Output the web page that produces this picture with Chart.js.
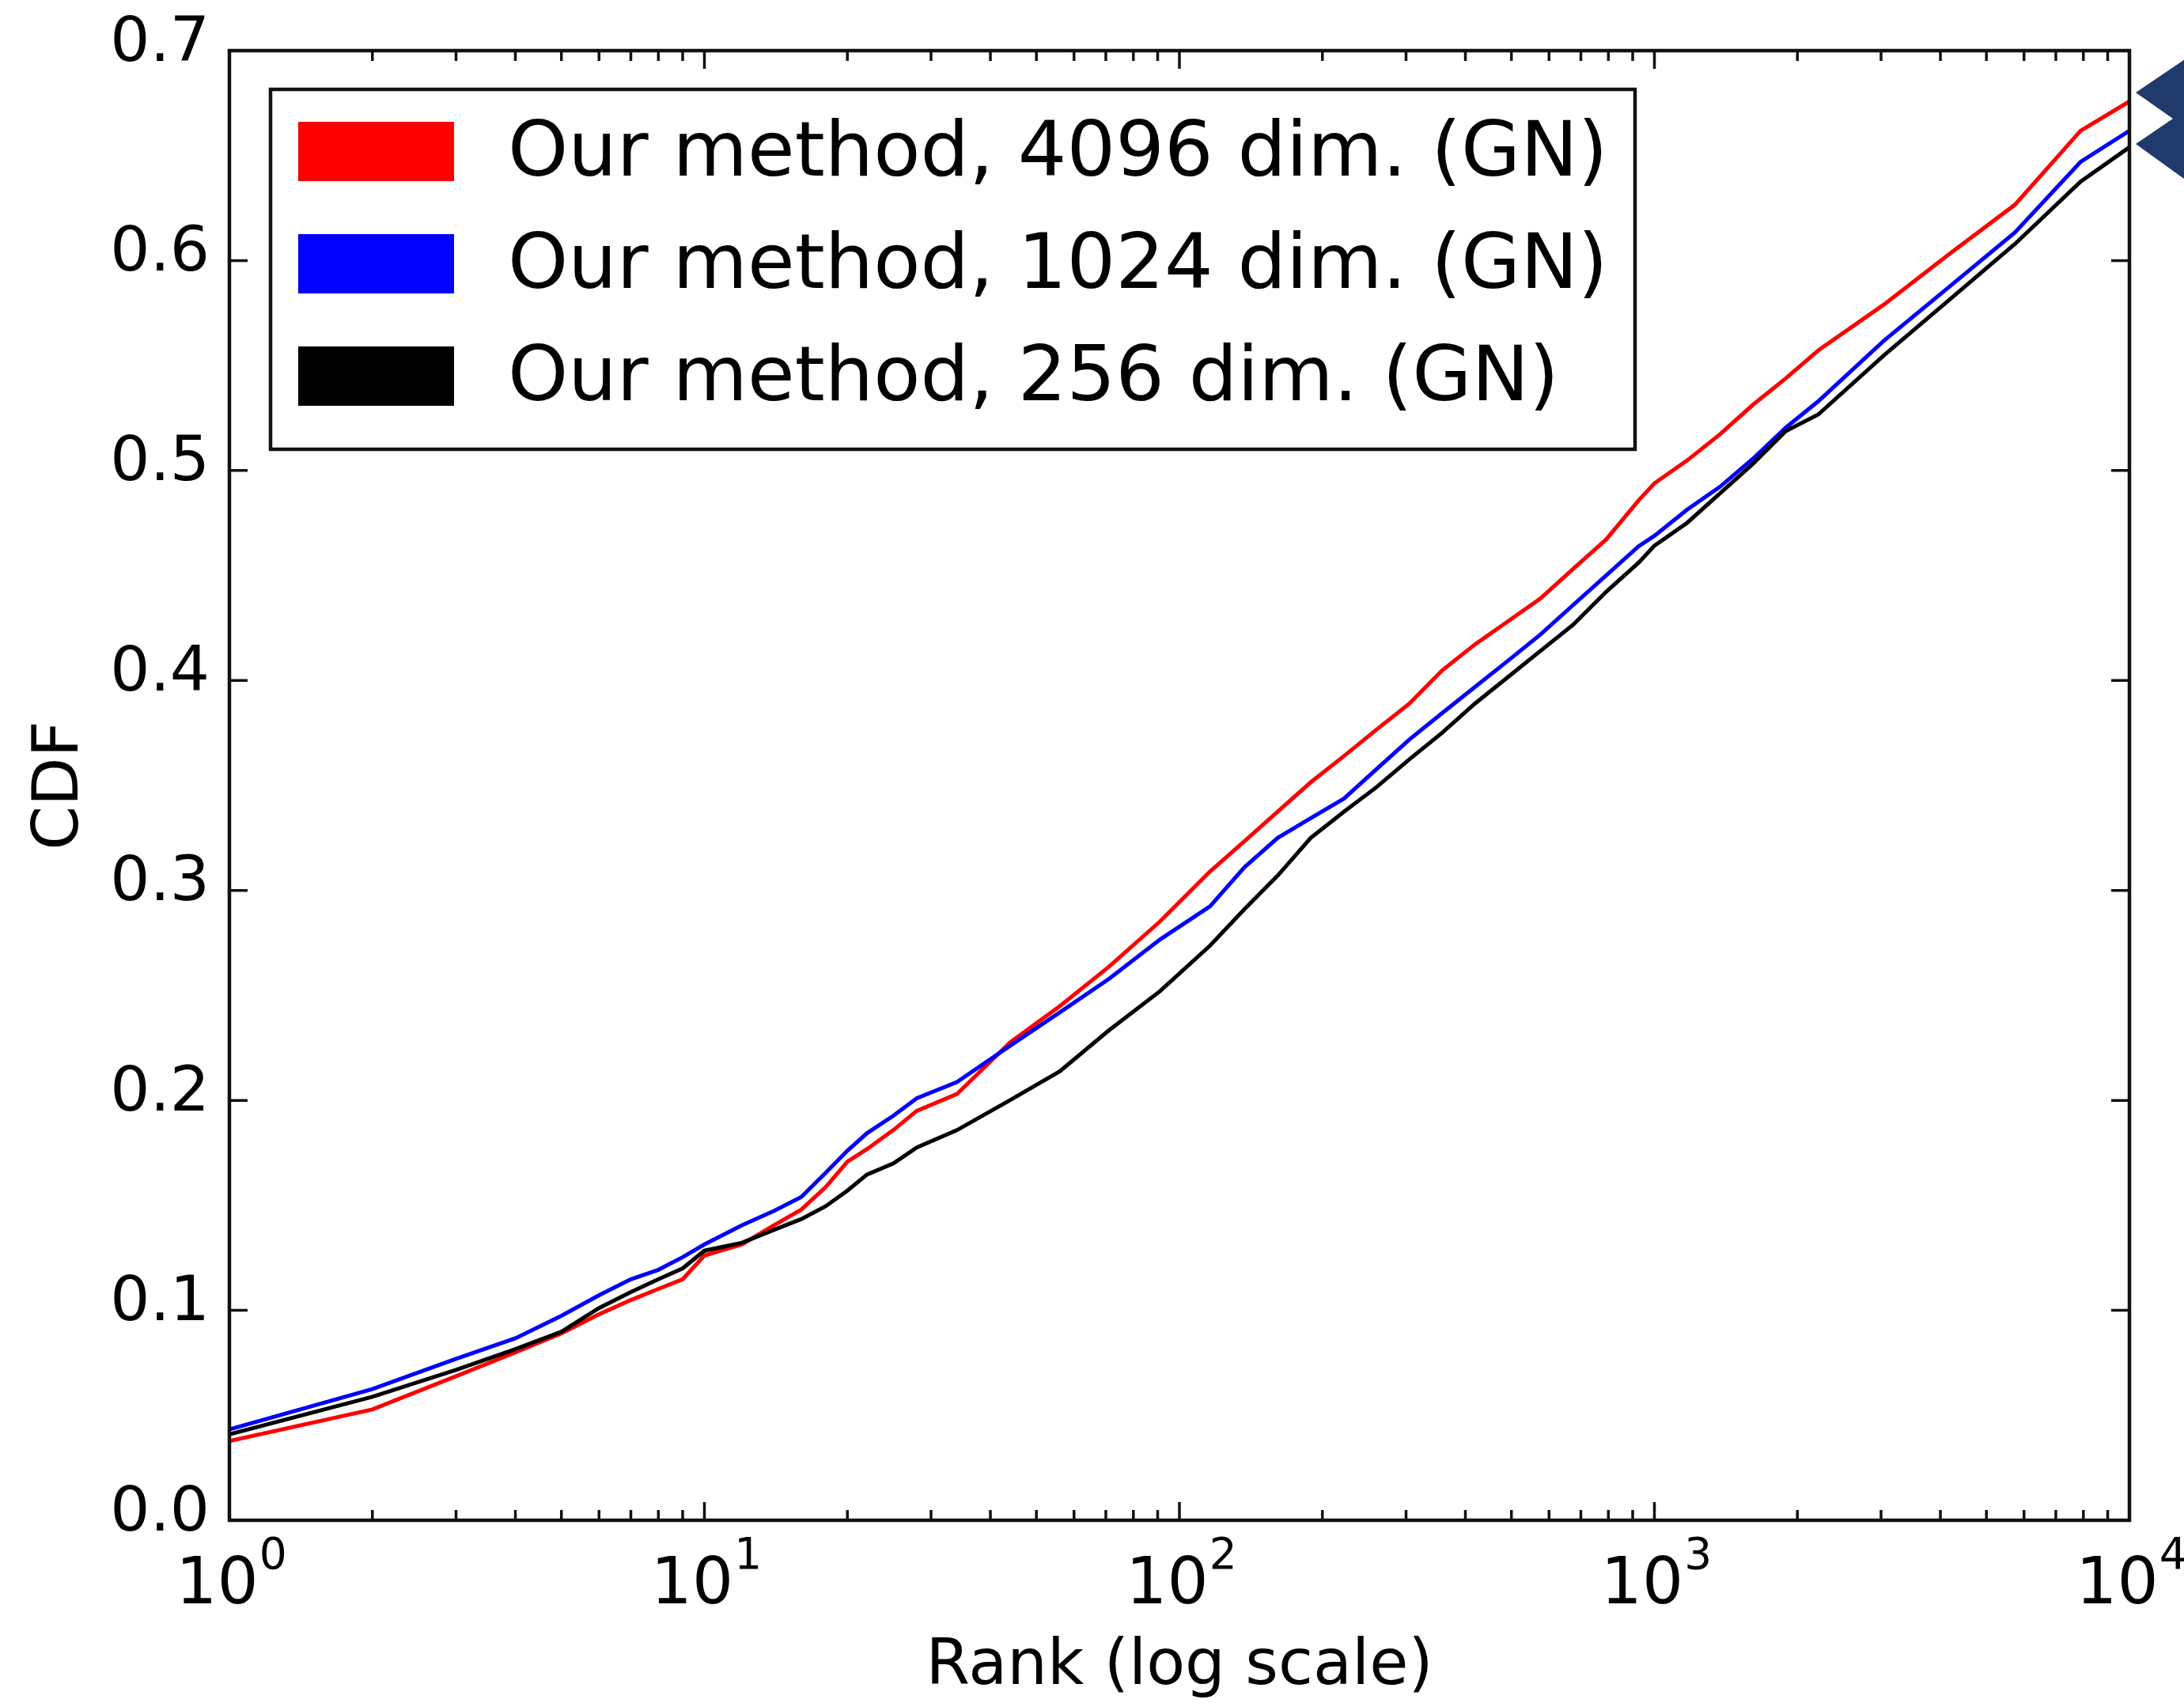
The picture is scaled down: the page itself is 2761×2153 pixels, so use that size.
<!DOCTYPE html>
<html><head><meta charset="utf-8">
<script src="https://cdn.jsdelivr.net/npm/chart.js@4.4.1/dist/chart.umd.min.js"></script>
<style>html,body{margin:0;padding:0;background:#fff;overflow:hidden}#wrap{width:2761px;height:2153px;position:relative;background:#fff}</style>
</head><body><div id="wrap"><canvas id="c" width="2761" height="2153"></canvas></div>
<script>
// ---- data ----
const ranks = [1,2,3,4,5,6,7,8,9,10,12,14,16,18,20,22,25,28,34,44,56,71,91,116,137,161,189,222,260,305,357,419,491,575,674,791,927,1000,1172,1375,1612,1890,2213,3040,4180,5740,7890,10000];
const red   = [0.0377,0.0528,0.0686,0.0800,0.0890,0.0981,0.1049,0.1102,0.1148,0.1261,0.1314,0.1405,0.1480,0.1587,0.1708,0.1768,0.1859,0.1950,0.2030,0.2276,0.2449,0.2636,0.2852,0.3090,0.3234,0.3375,0.3515,0.3640,0.3766,0.3890,0.4047,0.4172,0.4281,0.4390,0.4531,0.4671,0.4859,0.4939,0.5048,0.5173,0.5313,0.5439,0.5572,0.5790,0.6032,0.6266,0.6618,0.6758];
const blue  = [0.0433,0.0625,0.0769,0.0867,0.0974,0.1072,0.1148,0.1193,0.1253,0.1314,0.1405,0.1473,0.1540,0.1655,0.1760,0.1844,0.1927,0.2010,0.2087,0.2260,0.2419,0.2578,0.2766,0.2924,0.3110,0.3250,0.3344,0.3437,0.3578,0.3719,0.3844,0.3969,0.4093,0.4218,0.4359,0.4500,0.4640,0.4689,0.4814,0.4923,0.5056,0.5204,0.5330,0.5618,0.5876,0.6134,0.6470,0.6618];
const black = [0.0409,0.0588,0.0716,0.0815,0.0898,0.1011,0.1087,0.1148,0.1200,0.1284,0.1322,0.1383,0.1435,0.1496,0.1570,0.1647,0.1700,0.1776,0.1858,0.2001,0.2138,0.2333,0.2520,0.2737,0.2910,0.3070,0.3250,0.3375,0.3492,0.3625,0.3750,0.3890,0.4015,0.4140,0.4265,0.4422,0.4562,0.4642,0.4751,0.4892,0.5032,0.5188,0.5267,0.5548,0.5814,0.6079,0.6376,0.6540];
const seriesLabels = ['Our method, 4096 dim. (GN)','Our method, 1024 dim. (GN)','Our method, 256 dim. (GN)'];
const seriesColors = ['#ff0000','#0000ff','#000000'];
const yTicks = [0,0.1,0.2,0.3,0.4,0.5,0.6,0.7];
const xExponents = [0,1,2,3,4];
const xTitle = 'Rank (log scale)';
const yTitle = 'CDF';

const FONT = '"DejaVu Sans", sans-serif';

const decor = {
  id: 'decor',
  afterDraw(chart) {
    const ctx = chart.ctx, a = chart.chartArea, xs = chart.scales.x, ys = chart.scales.y;
    ctx.save();
    // inward ticks on all four sides
    ctx.strokeStyle = '#111';
    ctx.lineWidth = 3.5;
    const major = 23, minor = 13;
    ctx.beginPath();
    yTicks.forEach(v => {
      const p = ys.getPixelForValue(v);
      ctx.moveTo(a.left, p); ctx.lineTo(a.left + major, p);
      ctx.moveTo(a.right, p); ctx.lineTo(a.right - major, p);
    });
    for (let i = 0; i < xExponents.length; i++) {
      const e = xExponents[i];
      const last = i === xExponents.length - 1;
      for (let m = 1; m < 10; m++) {
        if (last && m > 1) break;
        const p = xs.getPixelForValue(m * Math.pow(10, e));
        const L = m === 1 ? major : minor;
        ctx.moveTo(p, a.bottom); ctx.lineTo(p, a.bottom - L);
        ctx.moveTo(p, a.top); ctx.lineTo(p, a.top + L);
      }
    }
    ctx.stroke();
    // frame
    ctx.lineWidth = 4.5;
    ctx.strokeRect(a.left, a.top, a.right - a.left, a.bottom - a.top);

    // x tick labels 10^n
    ctx.fillStyle = '#000';
    ctx.textBaseline = 'alphabetic';
    ctx.textAlign = 'left';
    xExponents.forEach(e => {
      const p = xs.getPixelForValue(Math.pow(10, e));
      ctx.font = '82px ' + FONT;
      const w1 = ctx.measureText('10').width;
      ctx.font = '55px ' + FONT;
      const w2 = ctx.measureText(String(e)).width;
      const x0 = p - (w1 + w2) / 2 + 2;
      ctx.font = '82px ' + FONT;
      ctx.fillText('10', x0, a.bottom + 105);
      ctx.font = '55px ' + FONT;
      ctx.fillText(String(e), x0 + w1 + 1, a.bottom + 61);
    });

    // legend box
    const lx = a.left + 52, ly = a.top + 49, lw = 1725, lh = 455;
    ctx.fillStyle = '#fff';
    ctx.fillRect(lx, ly, lw, lh);
    ctx.strokeStyle = '#111';
    ctx.lineWidth = 4.5;
    ctx.strokeRect(lx, ly, lw, lh);
    ctx.font = '97px ' + FONT;
    seriesLabels.forEach((lab, i) => {
      const ty = ly + 41 + i * 142;
      ctx.fillStyle = seriesColors[i];
      ctx.fillRect(lx + 35, ty, 197, 75);
      ctx.fillStyle = '#000';
      ctx.fillText(lab, lx + 300, ty + 68);
    });

    // slide decoration: navy double chevron at right edge
    ctx.fillStyle = '#1f3a6b';
    ctx.beginPath();
    ctx.moveTo(2765, 73);
    ctx.lineTo(2700, 117);
    ctx.lineTo(2747, 150);
    ctx.lineTo(2700, 182);
    ctx.lineTo(2765, 229);
    ctx.closePath();
    ctx.fill();
    ctx.restore();
  }
};

const mk = (vals, i) => ({
  label: seriesLabels[i],
  data: ranks.map((r, k) => ({x: r, y: vals[k]})),
  borderColor: seriesColors[i],
  backgroundColor: seriesColors[i],
  borderWidth: 5,
  pointRadius: 0,
  tension: 0,
  fill: false,
  order: 3 - i
});

new Chart(document.getElementById('c'), {
  type: 'line',
  data: { datasets: [mk(red, 0), mk(blue, 1), mk(black, 2)] },
  options: {
    responsive: false,
    animation: false,
    devicePixelRatio: 1,
    layout: { padding: { top: 64, right: 69, left: 0, bottom: 0 } },
    plugins: { legend: { display: false }, tooltip: { enabled: false } },
    scales: {
      x: {
        type: 'logarithmic',
        min: 1, max: 10000,
        grid: { display: false, drawTicks: false },
        border: { display: false },
        ticks: { display: false },
        title: { display: true, text: xTitle, color: '#000', font: { family: FONT, size: 80, lineHeight: 1 }, padding: { top: 0, bottom: 5 } },
        afterFit(s) { s.height = 231; }
      },
      y: {
        type: 'linear',
        min: 0, max: 0.7,
        afterBuildTicks(s) { s.ticks = yTicks.map(v => ({ value: v })); },
        grid: { display: false, drawTicks: true, tickLength: 20 },
        border: { display: false },
        ticks: { color: '#000', font: { family: FONT, size: 79 }, padding: 5, labelOffset: -8, callback: v => Number(v).toFixed(1) },
        title: { display: true, text: yTitle, color: '#000', font: { family: FONT, size: 80, lineHeight: 1 }, padding: { top: 37, bottom: 0 } },
        afterFit(s) { s.width = 290; }
      }
    }
  },
  plugins: [decor]
});
</script></body></html>
